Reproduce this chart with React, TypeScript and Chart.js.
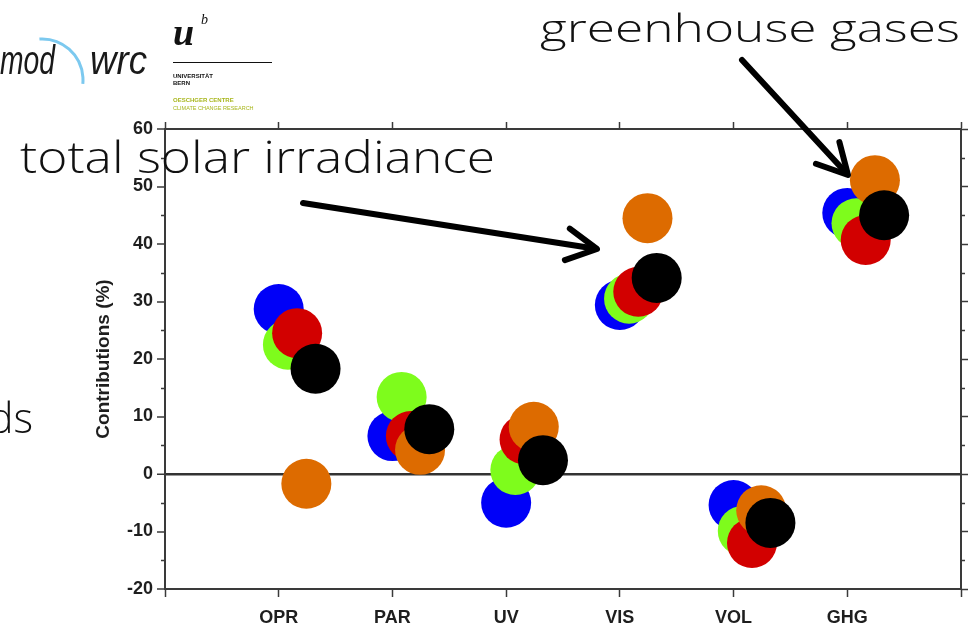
import React, { useEffect, useRef } from 'react';
import { Chart, registerables } from 'chart.js';

Chart.register(...registerables);

// Forcing categories on the x axis
const categories = ['OPR', 'PAR', 'UV', 'VIS', 'VOL', 'GHG'];
const yMinorTicks = [-15, -5, 5, 15, 25, 35, 45, 55];

// Contributions (%) of each forcing, one array per model run
const blueRun = [28.7, 6.6, -5.0, 29.4, -5.4, 45.4];
const greenRun = [22.5, 13.4, 0.7, 30.5, -9.9, 43.6];
const redRun = [24.5, 6.6, 6.0, 31.7, -12.0, 40.7];
const orangeRun = [-1.7, 4.2, 8.2, 44.5, -6.3, 51.1];
const blackRun = [18.3, 7.8, 2.4, 34.1, -8.5, 45.0];

const runs = [blueRun, greenRun, redRun, orangeRun, blackRun];
const runColors = ['#0000f8', '#7efc1c', '#d20000', '#dd6b00', '#000000'];
const RUN_SHIFT = 0.081; // small horizontal shift between runs inside a category

const W = 968;
const H = 629;
const AXIS_FONT = '"Liberation Sans", Arial, Helvetica, sans-serif';
const SLIDE_FONT = '"Open Sans", Lato, "Noto Sans", sans-serif';
const FRAME = '#3a3a3a';

function stretchedText(
  ctx: CanvasRenderingContext2D,
  text: string,
  left: number,
  baseline: number,
  font: string,
  width: number,
) {
  ctx.save();
  ctx.font = font;
  ctx.textAlign = 'left';
  ctx.textBaseline = 'alphabetic';
  const natural = ctx.measureText(text).width;
  ctx.translate(left, baseline);
  ctx.scale(width / natural, 1);
  ctx.fillText(text, 0, 0);
  ctx.restore();
}

function arrow(ctx: CanvasRenderingContext2D, x1: number, y1: number, x2: number, y2: number) {
  const ang = Math.atan2(y2 - y1, x2 - x1);
  const head = 34;
  const spread = (28 * Math.PI) / 180;
  ctx.save();
  ctx.strokeStyle = '#000';
  ctx.lineWidth = 6;
  ctx.lineCap = 'round';
  ctx.lineJoin = 'round';
  ctx.beginPath();
  ctx.moveTo(x1, y1);
  ctx.lineTo(x2 - Math.cos(ang) * 3, y2 - Math.sin(ang) * 3);
  ctx.stroke();
  ctx.beginPath();
  ctx.moveTo(x2 - head * Math.cos(ang - spread), y2 - head * Math.sin(ang - spread));
  ctx.lineTo(x2, y2);
  ctx.lineTo(x2 - head * Math.cos(ang + spread), y2 - head * Math.sin(ang + spread));
  ctx.stroke();
  ctx.restore();
}

// Institution logos in the top-left corner and minor tick marks on both y axes
const decorPlugin = {
  id: 'decor',
  afterDraw(chart: any) {
    const ctx: CanvasRenderingContext2D = chart.ctx;
    const y = chart.scales.y;
    const area = chart.chartArea;
    ctx.save();
    ctx.strokeStyle = FRAME;
    ctx.lineWidth = 1.3;
    for (const v of yMinorTicks) {
      const py = Math.round(y.getPixelForValue(v)) + 0.5;
      ctx.beginPath();
      ctx.moveTo(area.left - 4, py);
      ctx.lineTo(area.left, py);
      ctx.moveTo(area.right, py);
      ctx.lineTo(area.right + 4, py);
      ctx.stroke();
    }
    ctx.restore();

    ctx.save();
    ctx.fillStyle = '#1a1a1a';
    stretchedText(ctx, 'mod', 0, 74, `italic 300 40px ${AXIS_FONT}`, 55);
    stretchedText(ctx, 'wrc', 90, 74, `italic 300 40px ${AXIS_FONT}`, 57);
    ctx.strokeStyle = '#7cc9ef';
    ctx.lineWidth = 3;
    ctx.beginPath();
    ctx.arc(42, 80, 41, -Math.PI * 0.52, Math.PI * 0.03);
    ctx.stroke();

    ctx.fillStyle = '#111';
    ctx.font = 'bold italic 38px "Liberation Serif", "DejaVu Serif", serif';
    ctx.fillText('u', 173, 45);
    ctx.font = 'italic 14px "Liberation Serif", "DejaVu Serif", serif';
    ctx.fillText('b', 201, 24);
    ctx.fillRect(173, 62, 99, 1);
    ctx.font = `bold 6px ${AXIS_FONT}`;
    ctx.fillText('UNIVERSITÄT', 173, 78);
    ctx.fillText('BERN', 173, 85);
    ctx.fillStyle = '#a8b61c';
    ctx.fillText('OESCHGER CENTRE', 173, 102);
    ctx.font = `5.5px ${AXIS_FONT}`;
    ctx.fillText('CLIMATE CHANGE RESEARCH', 173, 110);
    ctx.restore();
  },
};

// Keep each axis box at an exact size and drop the label overhang padding
const fixHorizontal = (h: number) => (s: any) => {
  s.height = h;
  s.paddingLeft = 0;
  s.paddingRight = 0;
};
const fixVertical = (w: number) => (s: any) => {
  s.width = w;
  s.paddingTop = 0;
  s.paddingBottom = 0;
};

export default function App() {
  const chartRef = useRef<HTMLCanvasElement | null>(null);
  const overlayRef = useRef<HTMLCanvasElement | null>(null);

  useEffect(() => {
    const canvas = chartRef.current;
    if (!canvas) return;

    const datasets = runs.map((values, s) => ({
      label: `run ${s + 1}`,
      data: values.map((v, i) => ({ x: i + 1 + s * RUN_SHIFT, y: v })),
      backgroundColor: runColors[s],
      borderWidth: 0,
      pointRadius: 25,
      pointHoverRadius: 25,
      order: runs.length - s,
    }));

    const tickFont = { family: AXIS_FONT, size: 18, weight: 'bold' as const };
    const gridBase = {
      drawOnChartArea: false,
      tickLength: 8,
      tickColor: FRAME,
      tickWidth: 1.5,
    };

    const chart = new Chart(canvas, {
      type: 'scatter',
      data: { datasets },
      options: {
        responsive: false,
        animation: false,
        events: [],
        layout: { padding: 0, autoPadding: false },
        plugins: { legend: { display: false }, tooltip: { enabled: false } },
        scales: {
          x: {
            type: 'linear',
            position: 'bottom',
            min: 0,
            max: 7,
            ticks: {
              stepSize: 1,
              autoSkip: false,
              maxRotation: 0,
              padding: 10,
              color: '#1e1e1e',
              font: tickFont,
              callback: (v: any) => categories[Number(v) - 1] ?? '',
            },
            grid: gridBase,
            border: { color: FRAME, width: 2 },
            afterFit: fixHorizontal(40),
          },
          xTop: {
            type: 'linear',
            position: 'top',
            min: 0,
            max: 7,
            ticks: { stepSize: 1, display: false },
            grid: { ...gridBase, tickLength: 7 },
            border: { color: FRAME, width: 2 },
            afterFit: fixHorizontal(129),
          },
          y: {
            type: 'linear',
            position: 'left',
            min: -20,
            max: 60,
            ticks: { stepSize: 10, padding: 4, color: '#1e1e1e', font: tickFont },
            title: {
              display: true,
              text: 'Contributions (%)',
              color: '#1e1e1e',
              font: { family: AXIS_FONT, size: 19, weight: 'bold' },
              padding: { top: 92, bottom: 0 },
            },
            grid: {
              drawOnChartArea: true,
              color: (c: any) => (c.tick && c.tick.value === 0 ? '#333333' : 'rgba(0,0,0,0)'),
              lineWidth: (c: any) => (c.tick && c.tick.value === 0 ? 2.5 : 0),
              tickLength: 8,
              tickColor: FRAME,
              tickWidth: 1.5,
            },
            border: { color: FRAME, width: 2 },
            afterFit: fixVertical(165),
          },
          yRight: {
            type: 'linear',
            position: 'right',
            min: -20,
            max: 60,
            ticks: { stepSize: 10, display: false },
            grid: { ...gridBase, tickLength: 7 },
            border: { color: FRAME, width: 2 },
            afterFit: fixVertical(7),
          },
        },
      },
      plugins: [decorPlugin],
    });

    // Slide annotations drawn on a separate layer above the chart
    const overlay = overlayRef.current;
    if (overlay) {
      const o = overlay.getContext('2d');
      if (o) {
        o.clearRect(0, 0, W, H);
        o.fillStyle = '#111';
        stretchedText(o, 'total solar irradiance', 20, 173, `300 44px ${SLIDE_FONT}`, 475);
        stretchedText(o, 'greenhouse gases', 540, 42, `300 39px ${SLIDE_FONT}`, 420);
        o.font = `300 42px ${SLIDE_FONT}`;
        o.textAlign = 'right';
        o.fillText('ds', 33, 433);
        arrow(o, 303, 203, 597, 249);
        arrow(o, 742, 60, 848, 175);
      }
    }

    return () => chart.destroy();
  }, []);

  return (
    <div
      style={{
        position: 'absolute',
        left: 0,
        top: 0,
        width: W,
        height: H,
        background: '#fff',
        overflow: 'hidden',
      }}
    >
      <canvas
        ref={chartRef}
        width={W}
        height={H}
        style={{ position: 'absolute', left: 0, top: 0, width: W, height: H, filter: 'blur(0.5px)' }}
      />
      <canvas
        ref={overlayRef}
        width={W}
        height={H}
        style={{ position: 'absolute', left: 0, top: 0, width: W, height: H, pointerEvents: 'none' }}
      />
    </div>
  );
}
